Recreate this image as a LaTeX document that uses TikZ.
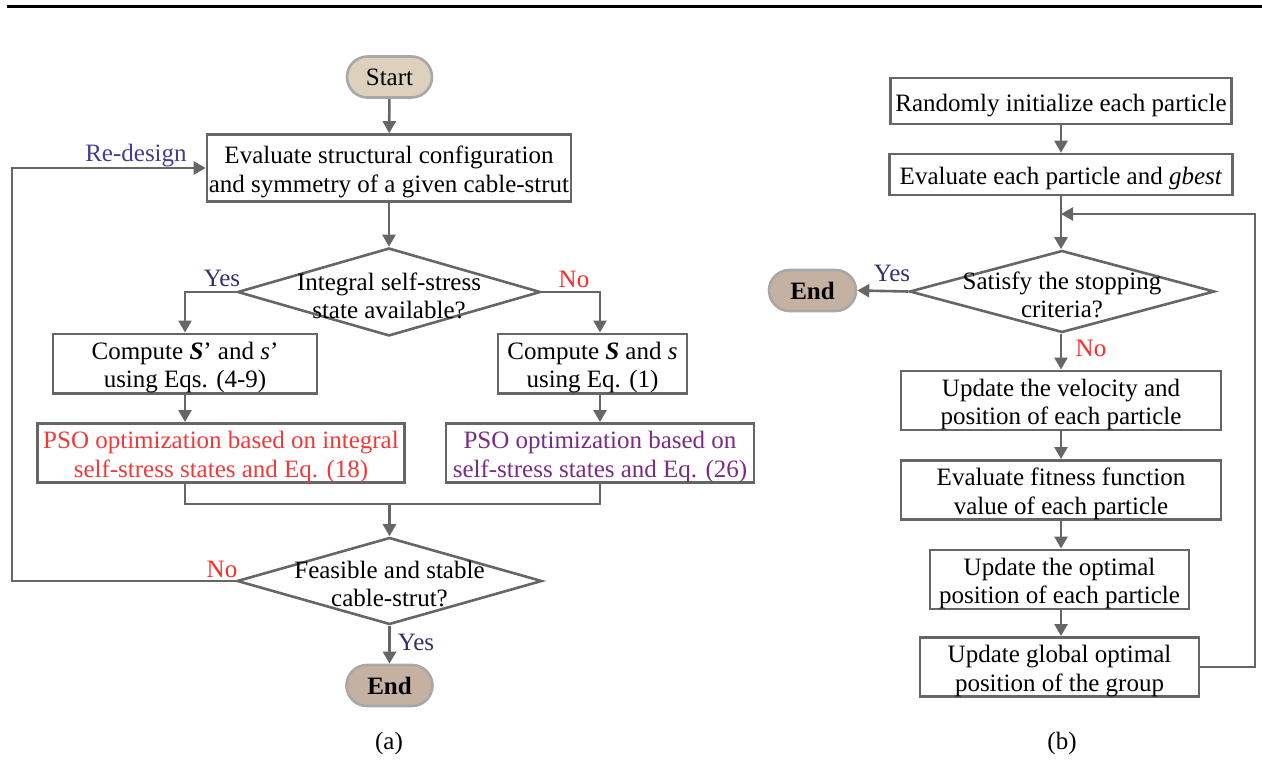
\documentclass[tikz,border=0pt]{standalone}
\usepackage{fontspec}
\setmainfont{Liberation Serif}
\usetikzlibrary{shapes.geometric,shapes.misc,arrows.meta}
\definecolor{ln}{HTML}{666666}
\definecolor{termbd}{HTML}{A8A8A8}
\definecolor{startfill}{HTML}{DDD1BE}
\definecolor{endfill}{HTML}{C5B1A2}
\definecolor{yescol}{HTML}{3A2D6B}
\definecolor{redsdcol}{HTML}{4A3A90}
\definecolor{nocol}{HTML}{FF2A2A}
\definecolor{psored}{HTML}{F03A3A}
\definecolor{psopurp}{HTML}{7A2C84}
\newcommand\myfs{\fontsize{25}{28.5}\selectfont}
\newcommand\lowr{\rule{0pt}{25.5pt}}
\begin{document}
\begin{tikzpicture}[x=1pt,y=-1pt,
  txt/.style={inner sep=0pt, align=center, font=\myfs},
  box/.style={draw=ln, line width=2.6pt, rectangle, inner sep=0pt, align=center, font=\myfs},
  term/.style={draw=termbd, line width=2.6pt, rounded rectangle, inner sep=0pt, font=\myfs\bfseries},
  dia/.style={draw=ln, line width=2.6pt, diamond, inner sep=0pt},
  conn/.style={draw=ln, line width=2.6pt},
  arr/.style={conn, -{Triangle[length=12pt,width=13pt]}}]
\useasboundingbox (0,0) rectangle (1262,760);
\draw[line width=2.2pt] (7,6.5) -- (1262,6.5);

% ---------------- (a)
\node[term, fill=startfill, minimum width=85pt, minimum height=41pt, font=\myfs] (start) at (389.5,77) {Start};
\node[box, minimum width=364pt, minimum height=67pt] (eval) at (389,168) {\lowr Evaluate structural configuration\\and symmetry of a given cable-strut};
\node[dia, minimum width=303pt, minimum height=88pt] (d1) at (389,292) {};
\node[txt] (d1t) at (389,296) {Integral self-stress\\state available?};
\node[box, minimum width=264pt, minimum height=57pt] (c1) at (185,363.5) {\lowr Compute \textbf{\textit{S}}' and \textit{s}'\\using Eqs. (4-9)};
\node[box, minimum width=189pt, minimum height=57pt] (c2) at (592.5,363.5) {\lowr Compute \textbf{\textit{S}} and \textit{s}\\using Eq. (1)};
\node[box, minimum width=367pt, minimum height=58pt, text=psored] (p1) at (221,453) {\lowr PSO optimization based on integral\\self-stress states and Eq. (18)};
\node[box, minimum width=308pt, minimum height=58pt, text=psopurp] (p2) at (600,453) {\lowr PSO optimization based on\\self-stress states and Eq. (26)};
\node[dia, minimum width=305pt, minimum height=87pt] (d2) at (389.5,581) {};
\node[txt] (d2t) at (389.5,584) {Feasible and stable\\cable-strut?};
\node[term, fill=endfill, minimum width=86pt, minimum height=41pt] (enda) at (389.5,685.5) {End};

\node[txt, text=redsdcol] (redesign) at (136,156) {Re-design};
\node[txt, text=yescol] (yes1) at (222,278) {Yes};
\node[txt, text=nocol] (no1) at (574,279) {No};
\node[txt, text=nocol] (no2) at (222,569) {No};
\node[txt, text=yescol] (yes2) at (416,642) {Yes};
\node[txt] (capa) at (389,743) {(a)};

\coordinate (colL) at (185,0);
\coordinate (colR) at (600,0);
\coordinate (lp) at (12,0);
\coordinate (mC) at (389.5,504);

\draw[arr] (start) -- (eval);
\draw[arr] (eval) -- (d1);
\draw[arr] (d1.west) -| (c1.north -| colL);
\draw[arr] (d1.east) -| (c2.north -| colR);
\draw[arr] (c1.south -| colL) -- (p1.north -| colL);
\draw[arr] (c2.south -| colR) -- (p2.north -| colR);
\draw[conn] (p1.south -| colL) |- (mC) -| (p2.south -| colR);
\draw[arr] (mC) -- (d2.north);
\draw[arr] (d2.south) -- (enda.north);
\draw[arr] (d2.west) -- (d2.west -| lp) |- (eval.west);

% ---------------- (b)
\node[box, minimum width=341pt, minimum height=46pt] (b1) at (1061,101) {\lowr Randomly initialize each particle};
\node[box, minimum width=343pt, minimum height=41pt] (b2) at (1061,174.5) {\lowr Evaluate each particle and \textit{gbest}};
\node[dia, minimum width=305pt, minimum height=82pt] (d3) at (1062,291.5) {};
\node[txt] (d3t) at (1062,295) {Satisfy the stopping\\criteria?};
\node[term, fill=endfill, minimum width=87pt, minimum height=41pt] (endb) at (812.5,290.5) {End};
\node[box, minimum width=320pt, minimum height=57pt] (b3) at (1061,400.5) {\lowr Update the velocity and\\position of each particle};
\node[box, minimum width=320pt, minimum height=56pt] (b4) at (1061,490) {\lowr Evaluate fitness function\\value of each particle};
\node[box, minimum width=259pt, minimum height=57pt] (b5) at (1059.5,579.5) {\lowr Update the optimal\\position of each particle};
\node[box, minimum width=279pt, minimum height=54pt] (b6) at (1059.5,667) {\lowr Update global optimal\\position of the group};
\node[txt, text=yescol] (yes3) at (892,273) {Yes};
\node[txt, text=nocol] (no3) at (1091,348) {No};
\node[txt] (capb) at (1062,743) {(b)};

\coordinate (colB) at (1061,0);
\coordinate (fbR) at (1255,214);
\coordinate (fbJ) at (1061,214);

\draw[arr] (b1) -- (b2);
\draw[arr] (b2.south) -- (d3.north -| colB);
\draw[arr] (b6.east) -| (fbR) -- (fbJ);
\draw[arr] (d3.west) -- (endb.east);
\draw[arr] (d3.south -| colB) -- (b3.north);
\draw[arr] (b3) -- (b4);
\draw[arr] (b4.south -| colB) -- (b5.north -| colB);
\draw[arr] (b5.south -| colB) -- (b6.north -| colB);
\end{tikzpicture}
\end{document}
